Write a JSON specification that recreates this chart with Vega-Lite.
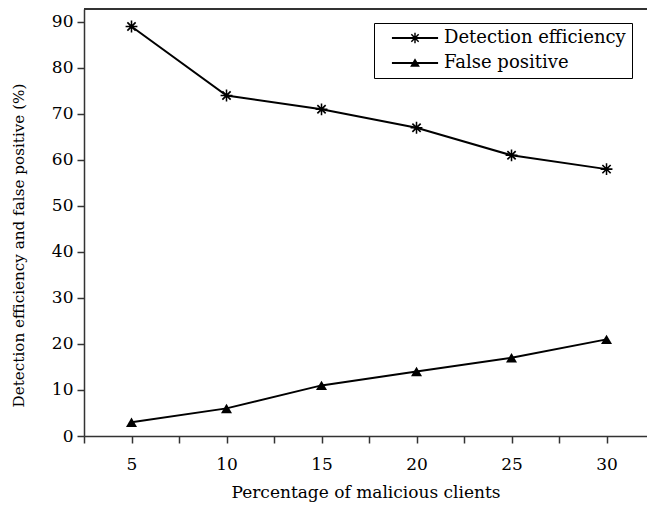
{
  "$schema": "https://vega.github.io/schema/vega-lite/v6.json",
  "width": 563,
  "height": 427,
  "autosize": {"type": "none"},
  "padding": {"left": 84, "top": 9, "right": 0, "bottom": 71},
  "background": "white",
  "config": {
    "view": {"stroke": null},
    "font": "DejaVu Serif",
    "axis": {
      "domainColor": "#333333",
      "domainWidth": 1.5,
      "tickColor": "#333333",
      "tickWidth": 1.5,
      "tickSize": 7,
      "labelFont": "DejaVu Serif",
      "labelFontSize": 17,
      "labelColor": "black",
      "titleFont": "DejaVu Serif",
      "titleFontSize": 17,
      "titleFontWeight": "normal",
      "titleColor": "black",
      "grid": false
    }
  },
  "data": {
    "values": [
      {"pct": 5, "value": 89, "series": "Detection efficiency"},
      {"pct": 10, "value": 74, "series": "Detection efficiency"},
      {"pct": 15, "value": 71, "series": "Detection efficiency"},
      {"pct": 20, "value": 67, "series": "Detection efficiency"},
      {"pct": 25, "value": 61, "series": "Detection efficiency"},
      {"pct": 30, "value": 58, "series": "Detection efficiency"},
      {"pct": 5, "value": 3, "series": "False positive"},
      {"pct": 10, "value": 6, "series": "False positive"},
      {"pct": 15, "value": 11, "series": "False positive"},
      {"pct": 20, "value": 14, "series": "False positive"},
      {"pct": 25, "value": 17, "series": "False positive"},
      {"pct": 30, "value": 21, "series": "False positive"}
    ]
  },
  "resolve": {"scale": {"shape": "independent"}, "legend": {"shape": "independent"}},
  "layer": [
    {
      "mark": {"type": "rule", "color": "#333333", "strokeWidth": 1.5},
      "encoding": {"y": {"datum": 92.8, "type": "quantitative"}}
    },
    {
      "mark": {"type": "line", "color": "black", "strokeWidth": 2},
      "encoding": {
        "x": {
          "field": "pct",
          "type": "quantitative",
          "scale": {"domain": [2.5, 32.13], "nice": false, "zero": false},
          "axis": {
            "title": "Percentage of malicious clients",
            "values": [2.5, 5, 7.5, 10, 12.5, 15, 17.5, 20, 22.5, 25, 27.5, 30, 32.5],
            "labelExpr": "datum.value % 5 === 0 ? format(datum.value, 'd') : ''",
            "labelPadding": 13,
            "titlePadding": 12
          }
        },
        "y": {
          "field": "value",
          "type": "quantitative",
          "scale": {"domain": [0, 92.8], "nice": false},
          "axis": {
            "title": "Detection efficiency and false positive (%)",
            "titleFontSize": 15.2,
            "titleY": 236,
            "values": [0, 5, 10, 15, 20, 25, 30, 35, 40, 45, 50, 55, 60, 65, 70, 75, 80, 85, 90],
            "labelExpr": "datum.value % 10 === 0 ? format(datum.value, 'd') : ''",
            "labelPadding": 4,
            "titlePadding": 25
          }
        },
        "detail": {"field": "series"}
      }
    },
    {
      "mark": {"type": "point", "filled": true, "color": "black", "opacity": 1, "size": 140},
      "encoding": {
        "x": {"field": "pct", "type": "quantitative"},
        "y": {"field": "value", "type": "quantitative"},
        "shape": {
          "field": "series",
          "type": "nominal",
          "scale": {
            "domain": ["Detection efficiency", "False positive"],
            "range": [
              "M-0.13,-1L0.13,-1L0.13,1L-0.13,1ZM-1,-0.13L1,-0.13L1,0.13L-1,0.13ZM0.6,0.8L-0.8,-0.6L-0.6,-0.8L0.8,0.6ZM0.8,-0.6L-0.6,0.8L-0.8,0.6L0.6,-0.8Z",
              "M0,-0.8L0.93,0.8L-0.93,0.8Z"
            ]
          },
          "legend": null
        }
      }
    },
    {
      "transform": [{"filter": "false"}],
      "mark": {"type": "point", "filled": true, "color": "black", "opacity": 1},
      "encoding": {
        "x": {"field": "pct", "type": "quantitative"},
        "y": {"field": "value", "type": "quantitative"},
        "shape": {
          "field": "series",
          "type": "nominal",
          "scale": {
            "domain": ["Detection efficiency", "False positive"],
            "range": [
              "M-4.4,-0.18L4.4,-0.18L4.4,0.18L-4.4,0.18ZM-0.14,-1L0.14,-1L0.14,1L-0.14,1ZM0.6,0.8L-0.8,-0.6L-0.6,-0.8L0.8,0.6ZM0.8,-0.6L-0.6,0.8L-0.8,0.6L0.6,-0.8Z",
              "M-4.4,-0.18L4.4,-0.18L4.4,0.18L-4.4,0.18ZM0,-0.9L0.93,0.7L-0.93,0.7Z"
            ]
          },
          "legend": {
            "title": null,
            "orient": "none",
            "legendX": 290,
            "legendY": 14,
            "strokeColor": "black",
            "fillColor": "white",
            "padding": 6,
            "rowPadding": 7,
            "symbolSize": 110,
            "symbolOffset": 26,
            "symbolFillColor": "black",
            "symbolOpacity": 1,
            "labelOffset": 20,
            "labelLimit": 400,
            "labelFont": "DejaVu Serif",
            "labelFontSize": 18,
            "labelColor": "black"
          }
        }
      }
    }
  ]
}
